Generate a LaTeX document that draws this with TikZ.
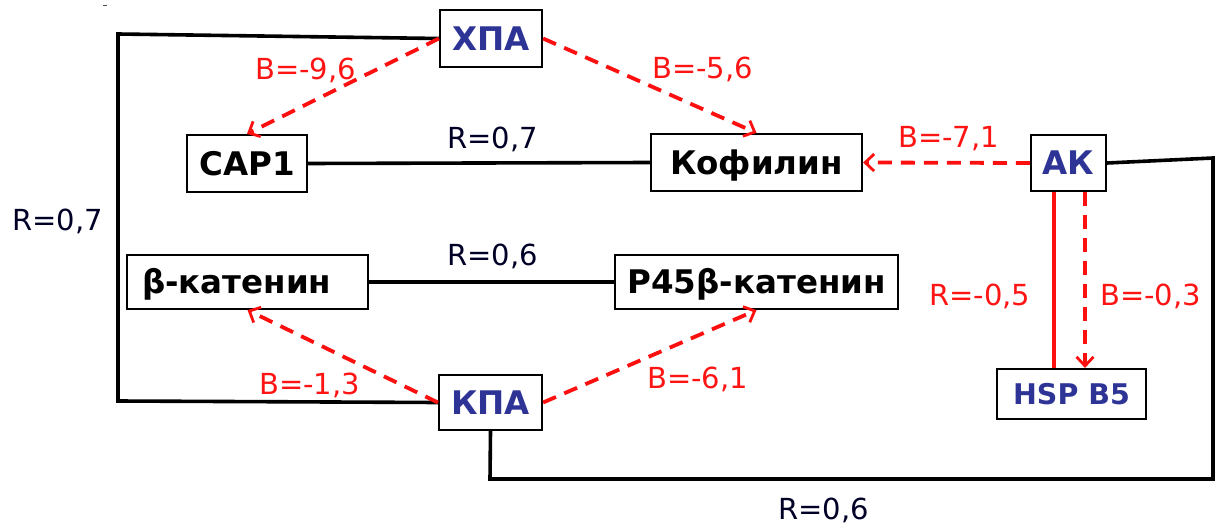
\documentclass[tikz,border=0pt]{standalone}
\usepackage{fontspec}
\setmainfont{DejaVu Sans}
\usetikzlibrary{arrows.meta}
\definecolor{navy}{RGB}{46,52,150}
\definecolor{lblred}{RGB}{255,20,20}
\definecolor{lnred}{RGB}{252,15,15}
\begin{document}
\begin{tikzpicture}[x=1pt,y=-1pt,
  box/.style={draw, line width=2.2pt, fill=white, inner sep=0pt,
    text height=23.5pt, text depth=0pt, align=center,
    font=\fontsize{32.5}{38}\selectfont\bfseries},
  navybox/.style={box, text=navy},
  link/.style={line width=3.6pt, line cap=round, line join=miter},
  effect/.style={lnred, line width=3.8pt, dash pattern=on 14pt off 9pt,
    -{Straight Barb[length=9pt,width=17pt,line width=2.8pt]}},
  corr/.style={lnred, line width=3.8pt},
  lbl/.style={inner sep=0pt, anchor=base west, font=\fontsize{29}{34}\selectfont},
  redlbl/.style={lbl, text=lblred},
  blklbl/.style={lbl, text=black!85!blue}
]
\useasboundingbox (0,0) rectangle (1215,524);

% proteins
\node[navybox, minimum width=102pt, minimum height=57pt] (hpa) at (491,38.5) {ХПА};
\node[box, minimum width=120pt, minimum height=57pt] (cap) at (247,163.5) {CAP1};
\node[box, minimum width=211pt, minimum height=57pt] (kof) at (756.5,162.5) {Кофилин};
\node[navybox, minimum width=75pt, minimum height=56pt] (ak) at (1068.5,163) {АК};
\node[box, text width=211pt, inner xsep=15pt, align=left, minimum height=54pt] (bcat) at (247.5,282) {β-катенин};
\node[box, minimum width=283pt, minimum height=54pt] (p45) at (756.5,282) {P45β-катенин};
\node[navybox, minimum width=103pt, minimum height=55pt] (kpa) at (490.5,402.5) {КПА};
\node[navybox, minimum width=149pt, minimum height=50pt, font=\fontsize{28.5}{34}\selectfont\bfseries, text height=21pt] (hsp) at (1071.5,394) {HSP B5};

% bends of the long correlation lines
\coordinate (tl) at (118,34);
\coordinate (bl) at (118,401);
\coordinate (tr) at (1213,158);
\coordinate (br) at (1213,479);
\coordinate (bm) at (490,479);
\coordinate (xr) at (1054,0);
\coordinate (xd) at (1085,0);

% correlations (black)
\draw[link] (cap.east) -- (kof.west);
\draw[link] (bcat.east) -- (p45.west);
\draw[link] (hpa.west) -- (tl) -- (bl) -- (kpa.west);
\draw[link] (ak.east) -- (tr) -- (br) -- (bm) -- (kpa.south);

% effects (red dashed arrows)
\draw[effect] (hpa.west) -- (cap.north);
\draw[effect] (hpa.east) -- (kof.north);
\draw[effect] (ak.west) -- (kof.east);
\draw[effect] (kpa.west) -- (bcat.south);
\draw[effect] (kpa.east) -- (p45.south);
\draw[effect] (ak.south -| xd) -- (hsp.north -| xd);
\draw[corr] (ak.south -| xr) -- (hsp.north -| xr);

% labels
\node[redlbl] (l1) at (255,80) {B=-9,6};
\node[redlbl] (l2) at (652,79) {B=-5,6};
\node[redlbl] (l3) at (898,147) {B=-7,1};
\node[redlbl] (l4) at (259,394) {B=-1,3};
\node[redlbl] (l5) at (647,388) {B=-6,1};
\node[redlbl] (l6) at (929,305) {R=-0,5};
\node[redlbl] (l7) at (1100,305) {B=-0,3};
\node[blklbl] (l8) at (447,148) {R=0,7};
\node[blklbl] (l9) at (447,265) {R=0,6};
\node[blklbl] (l10) at (778,519) {R=0,6};
\node[blklbl] (l11) at (12,230) {R=0,7};

% stray mark in the upper left corner
\draw[line width=1pt, black!70] (103,6) -- (107,6);
\end{tikzpicture}
\end{document}
